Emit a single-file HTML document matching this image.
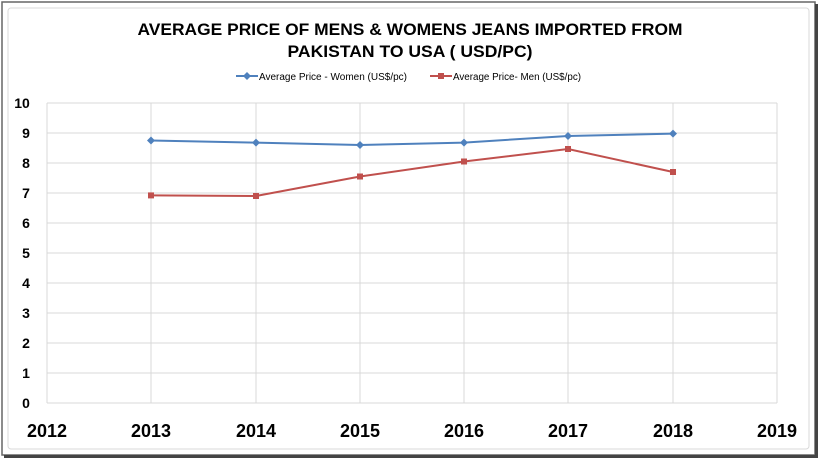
<!DOCTYPE html>
<html><head><style>
body{margin:0;background:#fff;}
</style></head><body>
<svg width="820" height="460" xmlns="http://www.w3.org/2000/svg" font-family="Liberation Sans, sans-serif">
<rect x="0" y="0" width="820" height="460" fill="#fff"/>
<rect x="2" y="2" width="813" height="453" fill="none" stroke="#666" stroke-width="1.5"/>
<rect x="815" y="4" width="3" height="453" fill="#444"/>
<rect x="4" y="455" width="814" height="3" fill="#444"/>
<rect x="8" y="8" width="801" height="441" rx="3" fill="none" stroke="#d9d9d9"/>
<text x="410" y="35" text-anchor="middle" font-weight="bold" font-size="17" textLength="545" lengthAdjust="spacingAndGlyphs">AVERAGE PRICE OF MENS &amp; WOMENS JEANS IMPORTED FROM</text>
<text x="410" y="57" text-anchor="middle" font-weight="bold" font-size="17" textLength="245" lengthAdjust="spacingAndGlyphs">PAKISTAN TO USA ( USD/PC)</text>
<line x1="236" y1="76" x2="258" y2="76" stroke="#4f81bd" stroke-width="2"/>
<path d="M247 72 L251 76 L247 80 L243 76Z" fill="#4f81bd"/>
<text x="259" y="80" font-size="10" textLength="148" lengthAdjust="spacingAndGlyphs">Average Price - Women (US$/pc)</text>
<line x1="430" y1="76" x2="452" y2="76" stroke="#c0504d" stroke-width="2"/>
<rect x="438" y="73" width="6" height="6" fill="#c0504d"/>
<text x="453" y="80" font-size="10" textLength="128" lengthAdjust="spacingAndGlyphs">Average Price- Men (US$/pc)</text>
<g stroke="#d9d9d9" stroke-width="1">
<line x1="47" y1="103" x2="777" y2="103"/><line x1="47" y1="133" x2="777" y2="133"/><line x1="47" y1="163" x2="777" y2="163"/><line x1="47" y1="193" x2="777" y2="193"/><line x1="47" y1="223" x2="777" y2="223"/><line x1="47" y1="253" x2="777" y2="253"/><line x1="47" y1="283" x2="777" y2="283"/><line x1="47" y1="313" x2="777" y2="313"/><line x1="47" y1="343" x2="777" y2="343"/><line x1="47" y1="373" x2="777" y2="373"/><line x1="47" y1="403" x2="777" y2="403"/>
<line x1="47" y1="103" x2="47" y2="403"/><line x1="151" y1="103" x2="151" y2="403"/><line x1="256" y1="103" x2="256" y2="403"/><line x1="360" y1="103" x2="360" y2="403"/><line x1="464" y1="103" x2="464" y2="403"/><line x1="568" y1="103" x2="568" y2="403"/><line x1="673" y1="103" x2="673" y2="403"/><line x1="777" y1="103" x2="777" y2="403"/>
</g>
<g font-weight="bold" font-size="14" text-anchor="middle">
<text x="22" y="108">10</text><text x="26" y="138">9</text><text x="26" y="168">8</text><text x="26" y="198">7</text><text x="26" y="228">6</text><text x="26" y="258">5</text><text x="26" y="288">4</text><text x="26" y="318">3</text><text x="26" y="348">2</text><text x="26" y="378">1</text><text x="26" y="408">0</text>
</g>
<g font-weight="bold" font-size="18" text-anchor="middle">
<text x="47" y="437">2012</text><text x="151" y="437">2013</text><text x="256" y="437">2014</text><text x="360" y="437">2015</text><text x="464" y="437">2016</text><text x="568" y="437">2017</text><text x="673" y="437">2018</text><text x="777" y="437">2019</text>
</g>
<polyline points="151,140.5 256,142.6 360,145 464,142.6 568,136 673,133.6" fill="none" stroke="#4f81bd" stroke-width="2"/>
<g fill="#4f81bd">
<path d="M151 136.5l4 4-4 4-4-4z"/><path d="M256 138.6l4 4-4 4-4-4z"/><path d="M360 141l4 4-4 4-4-4z"/><path d="M464 138.6l4 4-4 4-4-4z"/><path d="M568 132l4 4-4 4-4-4z"/><path d="M673 129.6l4 4-4 4-4-4z"/>
</g>
<polyline points="151,195.4 256,196 360,176.5 464,161.5 568,149 673,172" fill="none" stroke="#c0504d" stroke-width="2"/>
<g fill="#c0504d">
<rect x="148" y="192.4" width="6" height="6"/><rect x="253" y="193" width="6" height="6"/><rect x="357" y="173.5" width="6" height="6"/><rect x="461" y="158.5" width="6" height="6"/><rect x="565" y="146" width="6" height="6"/><rect x="670" y="169" width="6" height="6"/>
</g>
</svg>
</body></html>
